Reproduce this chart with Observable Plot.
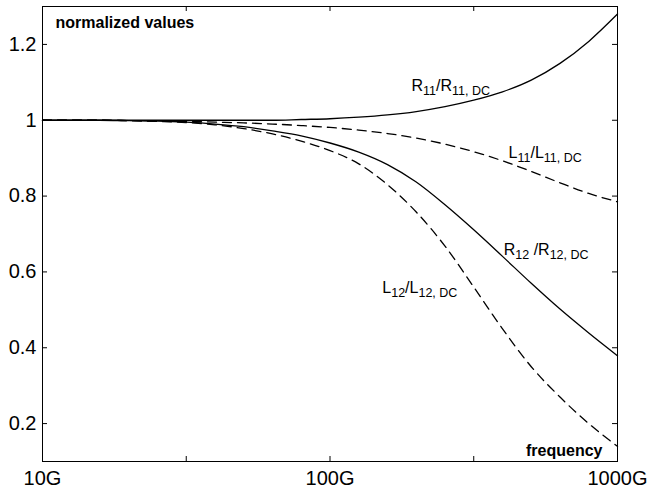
<!DOCTYPE html>
<html>
<head>
<meta charset="utf-8">
<script src="https://cdn.jsdelivr.net/npm/d3@7"></script>
<script src="https://cdn.jsdelivr.net/npm/@observablehq/plot@0.6"></script>
<style>
  html, body { margin: 0; padding: 0; background: white; }
  #chart svg { display: block; }
</style>
</head>
<body>
<div id="chart"></div>
<script>
// frequency samples (GHz)
const freqGHz = [10, 12.6, 15.8, 20, 25.1, 31.6, 39.8, 50.1, 63.1, 79.4, 100, 125.9, 158.5, 199.5, 251.2, 316.2, 398.1, 501.2, 631, 794.3, 1000];
// normalized values
const R11 = [1, 1, 1, 1, 1, 1, 1, 1, 1, 1.002, 1.004, 1.008, 1.014, 1.023, 1.036, 1.053, 1.075, 1.106, 1.15, 1.208, 1.28];
const L11 = [1, 1, 1, 0.999, 0.998, 0.997, 0.995, 0.993, 0.99, 0.986, 0.981, 0.974, 0.965, 0.953, 0.937, 0.917, 0.893, 0.865, 0.835, 0.807, 0.785];
const R12 = [1, 1, 1, 0.999, 0.998, 0.995, 0.99, 0.983, 0.972, 0.959, 0.94, 0.916, 0.883, 0.837, 0.777, 0.711, 0.641, 0.57, 0.502, 0.439, 0.379];
const L12 = [1, 1, 1, 0.999, 0.997, 0.994, 0.988, 0.978, 0.964, 0.945, 0.92, 0.885, 0.83, 0.758, 0.668, 0.56, 0.45, 0.35, 0.27, 0.2, 0.14];

const seriesNames = ["R11", "L11", "R12", "L12"];
const seriesDashed = [false, true, false, true];

// ticks
const yTicks = [0.2, 0.4, 0.6, 0.8, 1, 1.2];
const xTicks = [10, 31.62, 100, 316.2, 1000];
const xLabelTicks = [10, 100, 1000];
const xTickLabels = ["10G", "100G", "1000G"];

// curve labels (main / subscript alternating)
const labelParts = [
  ["R", "11", "/R", "11, DC"],
  ["L", "11", "/L", "11, DC"],
  ["R", "12", " /R", "12, DC"],
  ["L", "12", "/L", "12, DC"]
];
const labelX = [192, 418, 402, 152];
const labelY = [1.091, 0.915, 0.659, 0.558];

const axisTitleY = "normalized values";
const axisTitleX = "frequency";

// build tables
const seriesValues = [R11, L11, R12, L12];
const rows = [];
seriesNames.forEach((name, s) => {
  freqGHz.forEach((f, i) => rows.push({series: name, dashed: seriesDashed[s], f, v: seriesValues[s][i]}));
});
const labelRows = labelParts.map((p, i) => ({x: labelX[i], y: labelY[i], text: p.join(""), key: "curve-" + i}));

const W = 649, H = 491;
const mL = 42, mR = 32, mT = 6, mB = 30;
const innerW = W - mL - mR, innerH = H - mT - mB;
const tick = 5;

const svg = Plot.plot({
  width: W,
  height: H,
  marginLeft: mL,
  marginRight: mR,
  marginTop: mT,
  marginBottom: mB,
  style: {background: "white", fontFamily: "'Liberation Sans', Arial, Helvetica, sans-serif", color: "black"},
  x: {type: "log", domain: [10, 1000]},
  y: {domain: [0.1, 1.3]},
  marks: [
    Plot.frame({stroke: "black", strokeWidth: 1}),
    // inward ticks
    Plot.tickY(yTicks, {y: d => d, insetRight: innerW - tick, stroke: "black"}),
    Plot.tickY(yTicks, {y: d => d, insetLeft: innerW - tick, stroke: "black"}),
    Plot.tickX(xTicks, {x: d => d, insetTop: innerH - tick, stroke: "black"}),
    Plot.tickX(xTicks, {x: d => d, insetBottom: innerH - tick, stroke: "black"}),
    Plot.axisY(yTicks, {anchor: "left", tickSize: 0, tickPadding: 6, fontSize: 20, tickFormat: d => String(d), label: null}),
    Plot.axisX(xLabelTicks, {anchor: "bottom", tickSize: 0, tickPadding: 9, fontSize: 20, tickFormat: d => xTickLabels[xLabelTicks.indexOf(d)], label: null}),
    Plot.line(rows.filter(d => !d.dashed), {x: "f", y: "v", z: "series", stroke: "black", strokeWidth: 1.3, curve: "monotone-x"}),
    Plot.line(rows.filter(d => d.dashed), {x: "f", y: "v", z: "series", stroke: "black", strokeWidth: 1.3, strokeDasharray: "9,6", curve: "monotone-x"}),
    Plot.text([axisTitleY], {frameAnchor: "top-left", dx: 13, dy: 10, lineAnchor: "top", textAnchor: "start", fontWeight: "bold", fontSize: 16, fill: "black"}),
    Plot.text([axisTitleX], {frameAnchor: "bottom-right", dx: -15, dy: -6, lineAnchor: "bottom", textAnchor: "end", fontWeight: "bold", fontSize: 16, fill: "black"}),
    Plot.text(labelRows, {x: "x", y: "y", text: "text", ariaLabel: "key", textAnchor: "start", lineAnchor: "middle", fontSize: 16, fill: "black"})
  ]
});

// rich text for subscripts
d3.select(svg).selectAll("text[aria-label^='curve-']").each(function () {
  const i = +this.getAttribute("aria-label").slice(6);
  const parts = labelParts[i];
  this.textContent = "";
  const sel = d3.select(this);
  parts.forEach((p, j) => {
    const sub = j % 2 === 1;
    const t = sel.append("tspan").attr("font-size", sub ? 12.5 : 16).text(p);
    if (sub) t.attr("dy", 4);
    else if (j > 0) t.attr("dy", -4);
  });
});

document.getElementById("chart").append(svg);
</script>
</body>
</html>
